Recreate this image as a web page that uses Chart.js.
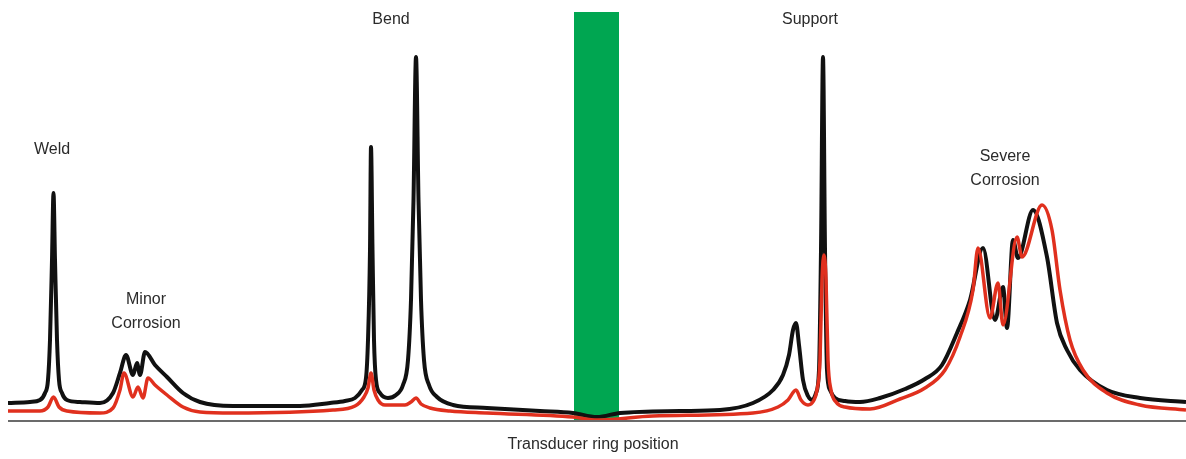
<!DOCTYPE html>
<html>
<head>
<meta charset="utf-8">
<script src="https://cdn.jsdelivr.net/npm/chart.js@4/dist/chart.umd.min.js"></script>
<style>
  html, body { margin: 0; padding: 0; background: #fff; }
  #wrap { width: 1186px; height: 459px; }
</style>
</head>
<body>
<div id="wrap"><canvas id="myChart" width="1186" height="459"></canvas></div>
<script>
// positions along the pipe and signal amplitude
const blackX = [8, 30, 40, 45, 48, 50, 52, 53.5, 55, 57, 59, 62, 67, 80, 100, 113, 120, 126, 133, 137, 140, 145, 155, 167, 183, 200, 233, 300, 330, 345, 355, 362, 366, 368, 370, 371, 372.5, 374, 376, 380, 388, 396, 403, 408, 411, 413.5, 416, 418.5, 421, 424, 429, 437, 453, 487, 540, 573, 597, 620, 680, 720, 753, 773, 783, 789, 793, 796, 799, 803, 808, 812, 816, 819, 821, 823, 825, 827, 830, 835, 845, 860, 880, 905, 925, 942, 957, 970, 983, 995, 1003, 1007, 1013, 1018, 1033, 1047, 1057, 1067, 1080, 1107, 1140, 1186];
const blackY = [17, 18, 20, 27, 40, 80, 160, 227, 160, 80, 40, 27, 20, 18, 17, 27, 47, 65, 45, 57, 45, 68, 55, 43, 27, 18, 14, 14, 17, 19, 22, 30, 42, 80, 170, 273, 170, 80, 40, 27, 22, 25, 35, 60, 120, 220, 363, 220, 120, 60, 35, 23, 15, 12, 9, 7, 3, 7, 9, 10, 17, 30, 45, 65, 90, 97, 75, 40, 24, 20, 27, 50, 170, 363, 170, 50, 30, 22, 19, 18, 22, 31, 41, 55, 87, 120, 172, 100, 133, 92, 180, 162, 210, 163, 97, 70, 50, 30, 22, 18];
const redX = [8, 40, 48, 53.5, 59, 67, 100, 113, 120, 124, 133, 138, 143, 148, 155, 167, 183, 200, 233, 333, 355, 364, 368, 371, 374, 378, 385, 405, 411, 416, 421, 430, 450, 487, 573, 597, 653, 753, 778, 788, 796, 801, 808, 814, 817, 820, 822, 824, 826, 828, 831, 836, 845, 870, 900, 925, 945, 960, 973, 978, 990, 998, 1003, 1017, 1022, 1042, 1052, 1060, 1070, 1083, 1107, 1140, 1186];
const redY = [9, 9, 13, 23, 13, 9, 7, 12, 30, 47, 23, 33, 22, 42, 35, 25, 13, 8, 7, 10, 14, 23, 32, 47, 30, 20, 15, 15, 18, 22, 16, 12, 9, 7, 3, 0, 4, 7, 13, 20, 30, 20, 15, 20, 30, 60, 140, 165, 140, 60, 30, 18, 13, 11, 21, 32, 50, 83, 130, 172, 102, 137, 95, 183, 163, 215, 190, 130, 80, 50, 27, 15, 10];

// the transducer ring band
const ringX = [574, 619];
const ringTop = 408;

// feature labels: [position, amplitude, lines]
const featureLabels = [
    [52, 270, ['Weld']],
    [146, 120, ['Minor', 'Corrosion']],
    [391, 400, ['Bend']],
    [810, 400, ['Support']],
    [1005, 263, ['Severe', 'Corrosion']]
];
const axisTitle = 'Transducer ring position';

function toPoints(xs, ys) {
    return xs.map((x, i) => ({ x: x, y: ys[i] }));
}

const labelPlugin = {
    id: 'labelPlugin',
    afterDatasetsDraw(chart) {
        const ctx = chart.ctx;
        const xs = chart.scales.x;
        const ys = chart.scales.y;
        ctx.save();
        // baseline axis
        ctx.strokeStyle = '#6b6b6b';
        ctx.lineWidth = 2;
        ctx.beginPath();
        ctx.moveTo(xs.getPixelForValue(xs.min), ys.getPixelForValue(-1));
        ctx.lineTo(xs.getPixelForValue(xs.max), ys.getPixelForValue(-1));
        ctx.stroke();

        ctx.fillStyle = '#2b2b2b';
        ctx.font = '16px "Liberation Sans", Arial, sans-serif';
        ctx.textAlign = 'center';
        ctx.textBaseline = 'middle';
        featureLabels.forEach(([x, y, lines]) => {
            lines.forEach((t, i) => {
                ctx.fillText(t, xs.getPixelForValue(x), ys.getPixelForValue(y) + i * 24);
            });
        });
        ctx.fillText(axisTitle, (chart.chartArea.left + chart.chartArea.right) / 2 - 4, ys.getPixelForValue(-1) + 24);
        ctx.restore();
    }
};

const ctx = document.getElementById('myChart').getContext('2d');
new Chart(ctx, {
    type: 'line',
    data: {
        datasets: [
            {
                label: 'Black',
                data: toPoints(blackX, blackY),
                borderColor: '#111111',
                borderWidth: 4,
                pointRadius: 0,
                cubicInterpolationMode: 'monotone',
                order: 1
            },
            {
                label: 'Red',
                data: toPoints(redX, redY),
                borderColor: '#e0301e',
                borderWidth: 3.5,
                pointRadius: 0,
                cubicInterpolationMode: 'monotone',
                order: 0
            },
            {
                label: 'Ring',
                data: toPoints(ringX, [ringTop, ringTop]),
                borderWidth: 0,
                borderColor: 'rgba(0,0,0,0)',
                backgroundColor: '#00a651',
                fill: 'origin',
                pointRadius: 0,
                order: 5
            }
        ]
    },
    options: {
        responsive: false,
        animation: false,
        layout: { padding: { left: 8, right: 0, top: 0, bottom: 39 } },
        scales: {
            x: { type: 'linear', min: 8, max: 1186, display: false },
            y: { min: 0, max: 420, display: false }
        },
        plugins: {
            legend: { display: false },
            tooltip: { enabled: false }
        }
    },
    plugins: [labelPlugin]
});
</script>
</body>
</html>
